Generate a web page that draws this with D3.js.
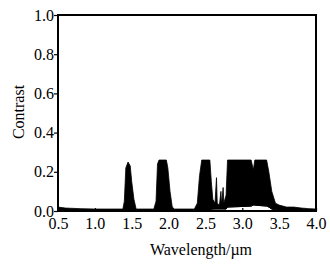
<!DOCTYPE html>
<html>
<head>
<meta charset="utf-8">
<script src="https://d3js.org/d3.v7.min.js"></script>
<style>
  * { font-family: "Liberation Serif", "DejaVu Serif", serif !important; }
  body { margin: 0; background: #fff; }
</style>
</head>
<body>
<svg id="chart" width="330" height="265"></svg>
<script>
// upper / lower envelope of the contrast trace
const wavelength = [0.50, 0.60, 0.80, 1.00, 1.20, 1.38, 1.40, 1.42, 1.45, 1.48, 1.50, 1.53, 1.56,
    1.80, 1.83, 1.85, 1.87, 1.97, 1.99, 2.02, 2.05, 2.08, 2.35, 2.39, 2.42, 2.45, 2.56, 2.58,
    2.60, 2.63, 2.65, 2.66, 2.69, 2.71, 2.72, 2.74, 2.75, 2.78, 2.80, 3.12, 3.15, 3.17, 3.33,
    3.36, 3.40, 3.45, 3.50, 3.60, 3.70, 3.80, 3.90, 4.00];
const upper = [0.020, 0.015, 0.012, 0.010, 0.010, 0.010, 0.05, 0.22, 0.25, 0.23, 0.15, 0.06, 0.010,
    0.010, 0.05, 0.24, 0.26, 0.26, 0.22, 0.10, 0.02, 0.010, 0.010, 0.04, 0.18, 0.26, 0.26, 0.15,
    0.06, 0.04, 0.17, 0.04, 0.03, 0.10, 0.03, 0.12, 0.04, 0.08, 0.26, 0.26, 0.21, 0.26, 0.26,
    0.20, 0.10, 0.04, 0.03, 0.020, 0.020, 0.015, 0.012, 0.010];
const lower = [0.004, 0.004, 0.004, 0.004, 0.004, 0.004, 0.004, 0.004, 0.005, 0.005, 0.005, 0.005, 0.004,
    0.004, 0.004, 0.005, 0.005, 0.005, 0.005, 0.005, 0.004, 0.004, 0.004, 0.004, 0.005, 0.005, 0.005, 0.005,
    0.010, 0.010, 0.010, 0.010, 0.010, 0.010, 0.010, 0.010, 0.010, 0.010, 0.020, 0.025, 0.030, 0.030, 0.025,
    0.020, 0.010, 0.006, 0.005, 0.005, 0.005, 0.005, 0.005, 0.005];

const xTicks = [0.5, 1.0, 1.5, 2.0, 2.5, 3.0, 3.5, 4.0];
const yTicks = [0.0, 0.2, 0.4, 0.6, 0.8, 1.0];

const margin = {top: 15, right: 14, bottom: 54, left: 58};
const width = 330 - margin.left - margin.right;
const height = 265 - margin.top - margin.bottom;

const data = wavelength.map((w, i) => ({w: w, hi: upper[i], lo: lower[i]}));

const svg = d3.select("#chart");
const g = svg.append("g")
    .attr("transform", `translate(${margin.left},${margin.top})`);

const x = d3.scaleLinear().domain([0.5, 4.0]).range([0, width]);
const y = d3.scaleLinear().domain([0, 1.0]).range([height, 0]);

// filled trace
g.append("path")
    .datum(data)
    .attr("d", d3.area().x(d => x(d.w)).y0(d => y(d.lo)).y1(d => y(d.hi)))
    .attr("fill", "#000")
    .attr("stroke", "#000")
    .attr("stroke-width", 0.8);

// baseline trace
g.append("path")
    .datum(data)
    .attr("d", d3.line().x(d => x(d.w)).y(d => y(d.lo)))
    .attr("fill", "none")
    .attr("stroke", "#000")
    .attr("stroke-width", 1);

// frame
g.append("rect")
    .attr("width", width)
    .attr("height", height)
    .attr("fill", "none")
    .attr("stroke", "#000")
    .attr("stroke-width", 2);

const xAxis = g.append("g")
    .attr("transform", `translate(0,${height})`)
    .call(d3.axisBottom(x).tickValues(xTicks).tickFormat(d3.format(".1f")).tickSize(-3).tickPadding(7));

const yAxis = g.append("g")
    .call(d3.axisLeft(y).tickValues(yTicks).tickFormat(d3.format(".1f")).tickSize(4).tickPadding(0));

[xAxis, yAxis].forEach(a => {
    a.attr("font-family", "Liberation Serif").attr("font-size", 16);
    a.select(".domain").remove();
    a.selectAll("line").attr("stroke", "#000").attr("stroke-width", 1.2);
    a.selectAll("text").attr("fill", "#000").attr("font-family", "Liberation Serif");
});

svg.append("text")
    .attr("x", margin.left + width / 2 + 14)
    .attr("y", 255)
    .attr("text-anchor", "middle")
    .attr("font-family", "Liberation Serif")
    .attr("font-size", 16)
    .text("Wavelength/\u00b5m");

svg.append("text")
    .attr("transform", "translate(24,112) rotate(-90)")
    .attr("text-anchor", "middle")
    .attr("font-family", "Liberation Serif")
    .attr("font-size", 16)
    .text("Contrast");
</script>
</body>
</html>
